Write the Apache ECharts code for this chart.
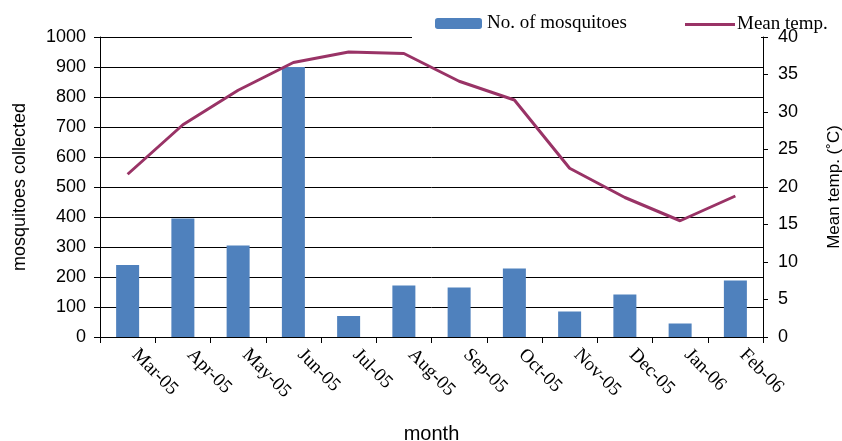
<!DOCTYPE html>
<html>
<head>
<meta charset="utf-8">
<script src="https://cdn.jsdelivr.net/npm/echarts@6/dist/echarts.min.js"></script>
<style>
  html, body { margin: 0; padding: 0; background: #fff; }
  #chart { width: 842px; height: 441px; }
</style>
</head>
<body>
<div id="chart"></div>
<script>
// months along the x axis
var months = ['Mar-05', 'Apr-05', 'May-05', 'Jun-05', 'Jul-05', 'Aug-05',
              'Sep-05', 'Oct-05', 'Nov-05', 'Dec-05', 'Jan-06', 'Feb-06'];
// mosquitoes collected (left axis)
var mosquitoes = [240, 395, 305, 900, 70, 172, 165, 228, 85, 142, 45, 188];
// mean temperature, deg C (right axis)
var meanTemp = [21.7, 28.3, 32.9, 36.6, 38.0, 37.8, 34.1, 31.6, 22.5, 18.6, 15.5, 18.8];

var tickFont = 'Liberation Sans';
var serif = 'Liberation Serif';
var lineColor = '#993366';

var myChart = echarts.init(document.getElementById('chart'));
myChart.setOption({
  animation: false,
  backgroundColor: '#fff',
  grid: { left: 100, right: 79, top: 37, bottom: 104, outerBoundsMode: 'none', containLabel: false },
  legend: [{
    left: 430, top: 9,
    itemWidth: 47, itemHeight: 11,
    textStyle: { fontFamily: serif, fontSize: 19, color: '#000' },
    data: ['No. of mosquitoes']
  }, {
    left: 680, top: 10,
    itemWidth: 50, itemHeight: 3,
    icon: 'rect',
    textStyle: { fontFamily: serif, fontSize: 19, color: '#000', padding: [0, 0, 0, -3] },
    data: ['Mean temp.']
  }],
  // white strip where the legend hides the top gridline
  graphic: [{
    type: 'rect', z: 100,
    shape: { x: 412, y: 34, width: 349, height: 6 },
    style: { fill: '#fff' }
  }],
  xAxis: {
    type: 'category',
    data: months,
    boundaryGap: true,
    name: 'month',
    nameLocation: 'middle',
    nameGap: 87,
    nameTextStyle: { fontFamily: tickFont, fontSize: 20, color: '#000' },
    axisLine: { lineStyle: { color: '#000', width: 1 } },
    axisTick: { show: true, length: 6, lineStyle: { color: '#000' } },
    axisLabel: {
      rotate: -45, margin: 8, padding: [0, 0, 0, 10],
      fontFamily: serif, fontSize: 19, color: '#000'
    }
  },
  yAxis: [{
    type: 'value',
    min: 0, max: 1000, interval: 100,
    name: 'mosquitoes collected',
    nameLocation: 'middle',
    nameRotate: 90,
    nameGap: 71,
    nameTextStyle: { fontFamily: tickFont, fontSize: 18, color: '#000', verticalAlign: 'bottom' },
    axisLine: { show: true, lineStyle: { color: '#000', width: 1 } },
    axisTick: { show: true, length: 6, lineStyle: { color: '#000' } },
    axisLabel: {
      margin: 14, fontFamily: tickFont, fontSize: 18, color: '#000',
      formatter: function (v) { return String(v); }
    },
    splitLine: { show: true, lineStyle: { color: '#000', width: 1 } }
  }, {
    type: 'value',
    position: 'right',
    min: 0, max: 40, interval: 5,
    name: 'Mean temp. (˚C)',
    nameLocation: 'middle',
    nameRotate: 90,
    nameGap: 63,
    nameTextStyle: { fontFamily: tickFont, fontSize: 17, color: '#000', verticalAlign: 'top' },
    axisLine: { show: true, lineStyle: { color: '#000', width: 1 } },
    axisTick: { show: true, length: 5, lineStyle: { color: '#000' } },
    axisLabel: { margin: 15, fontFamily: tickFont, fontSize: 18, color: '#000' },
    splitLine: { show: false }
  }],
  series: [{
    name: 'No. of mosquitoes',
    type: 'bar',
    data: mosquitoes,
    barWidth: 23,
    itemStyle: { color: '#4F81BD' }
  }, {
    name: 'Mean temp.',
    type: 'line',
    yAxisIndex: 1,
    data: meanTemp,
    symbol: 'none',
    lineStyle: { color: lineColor, width: 3 },
    itemStyle: { color: lineColor }
  }]
});
</script>
</body>
</html>
